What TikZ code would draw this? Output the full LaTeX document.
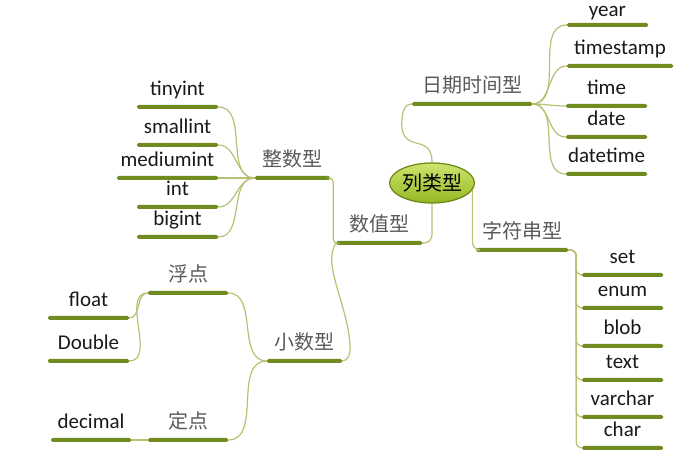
\documentclass[tikz,border=0pt]{standalone}
\usepackage{fontspec}
\setmainfont{Carlito}
\newfontfamily\cjk{Noto Sans CJK SC}
\usetikzlibrary{shapes.geometric}
\definecolor{barcol}{RGB}{112,140,32}
\definecolor{linkcol}{RGB}{185,192,115}
\definecolor{rootlight}{RGB}{205,228,110}
\definecolor{rootdark}{RGB}{150,185,35}
\definecolor{rootline}{RGB}{105,135,20}

\begin{document}
\begin{tikzpicture}[
						x=1pt, y=1pt,
						root/.style = {ellipse, draw=rootline, line width=1.2pt, top color=rootlight, bottom color=rootdark, minimum width=82, minimum height=40, inner sep=0pt, font=\cjk\fontsize{20}{24}\selectfont},
						bar/.style = {rectangle, fill=barcol, rounded corners=1.5pt, minimum height=4, inner sep=0pt},
						en/.style = {inner sep=0pt, text depth=0pt, label distance=9pt, text=black!90, font=\fontsize{21}{25}\selectfont},
						cn/.style = {inner sep=0pt, text depth=0pt, label distance=9pt, text=black!65, font=\cjk\fontsize{20}{24}\selectfont},
						link/.style = {draw=linkcol, line width=1.2pt}
					]
					\useasboundingbox (0,0) rectangle (681,-457);
					\node[root] (c) at (432,-183) {列类型};
					% 日期时间型
					\node[bar, minimum width=120, label={[cn]above:日期时间型}] (rq) at (472,-104) {};
					\node[bar, minimum width=81, label={[en, label distance=6pt, text height=1.6ex]above:year}] (year) at (607.5,-25) {};
					\node[bar, minimum width=106, label={[en]above:timestamp}] (timestamp) at (620,-66) {};
					\node[bar, minimum width=81, label={[en]above:time}] (time) at (606.5,-106) {};
					\node[bar, minimum width=81, label={[en]above:date}] (date) at (606.5,-137) {};
					\node[bar, minimum width=81, label={[en]above:datetime}] (datetime) at (606.5,-174) {};
					% 字符串型
					\node[bar, minimum width=92, label={[cn]above:字符串型}] (zf) at (522,-250) {};
					\node[bar, minimum width=81, label={[en]above:set}] (set) at (622.5,-275) {};
					\node[bar, minimum width=81, label={[en]above:enum}] (enum) at (622.5,-308) {};
					\node[bar, minimum width=81, label={[en]above:blob}] (blob) at (622.5,-346) {};
					\node[bar, minimum width=81, label={[en]above:text}] (text) at (622.5,-380) {};
					\node[bar, minimum width=81, label={[en]above:varchar}] (varchar) at (622.5,-417) {};
					\node[bar, minimum width=81, label={[en]above:char}] (char) at (622.5,-448) {};
					% 数值型
					\node[bar, minimum width=86, label={[cn]above:数值型}] (sz) at (379,-243) {};
					\node[bar, minimum width=75, label={[cn]above:整数型}] (zs) at (292.5,-178) {};
					\node[bar, minimum width=81, label={[en]above:tinyint}] (tinyint) at (177.5,-107) {};
					\node[bar, minimum width=81, label={[en]above:smallint}] (smallint) at (177.5,-145) {};
					\node[bar, minimum width=101, label={[en]above:mediumint}] (mediumint) at (167.5,-178) {};
					\node[bar, minimum width=81, label={[en]above:int}] (int) at (177.5,-207) {};
					\node[bar, minimum width=81, label={[en]above:bigint}] (bigint) at (177.5,-237) {};
					\node[bar, minimum width=75, label={[cn]above:小数型}] (xs) at (304.5,-361) {};
					\node[bar, minimum width=80, label={[cn]above:浮点}] (fd) at (188,-293) {};
					\node[bar, minimum width=80, label={[cn]above:定点}] (dd) at (188,-440) {};
					\node[bar, minimum width=81, label={[en]above:float}] (float) at (88.5,-318) {};
					\node[bar, minimum width=81, label={[en]above:Double}] (Double) at (88.5,-361) {};
					\node[bar, minimum width=80, label={[en]above:decimal}] (decimal) at (91,-440) {};
					% links
					\draw[link] (c.north) .. controls +(0,30) and +(0,-30) .. ([xshift=-10pt,yshift=-20pt]rq.west) to[out=90,in=180] (rq.west);
					\draw[link, rounded corners=8] (c.-10) |- (zf.west);
					\draw[link, rounded corners=8] (c.south) |- (sz.east);
					\draw[link] (rq.east) to[out=0,in=180] (year.west);
					\draw[link] (rq.east) to[out=0,in=180] (timestamp.west);
					\draw[link] (rq.east) to[out=0,in=180] (time.west);
					\draw[link] (rq.east) to[out=0,in=180] (date.west);
					\draw[link] (rq.east) to[out=0,in=180] (datetime.west);
					\draw[link, rounded corners=6] (zf.east) -- ++(8,0) |- (set.west);
					\draw[link, rounded corners=6] (zf.east) -- ++(8,0) |- (enum.west);
					\draw[link, rounded corners=6] (zf.east) -- ++(8,0) |- (blob.west);
					\draw[link, rounded corners=6] (zf.east) -- ++(8,0) |- (text.west);
					\draw[link, rounded corners=6] (zf.east) -- ++(8,0) |- (varchar.west);
					\draw[link, rounded corners=6] (zf.east) -- ++(8,0) |- (char.west);
					\draw[link, rounded corners=4] (zs.east) -- ++(3,0) |- (sz.west);
					\draw[link] (sz.west) .. controls +(-14,-22) and +(-2,42) .. ([xshift=8pt,yshift=14pt]xs.east) to[out=-90,in=0] (xs.east);
					\draw[link] (zs.west) to[out=180,in=0] (tinyint.east);
					\draw[link] (zs.west) to[out=180,in=0] (smallint.east);
					\draw[link] (zs.west) to[out=180,in=0] (mediumint.east);
					\draw[link] (zs.west) to[out=180,in=0] (int.east);
					\draw[link] (zs.west) to[out=180,in=0] (bigint.east);
					\draw[link] (xs.west) to[out=180,in=0] (fd.east);
					\draw[link] (xs.west) to[out=180,in=0] (dd.east);
					\draw[link] (fd.west) to[out=180,in=0] (float.east);
					\draw[link] (fd.west) to[out=180,in=0] (Double.east);
					\draw[link] (dd.west) -- (decimal.east);
				\end{tikzpicture}
\end{document}
